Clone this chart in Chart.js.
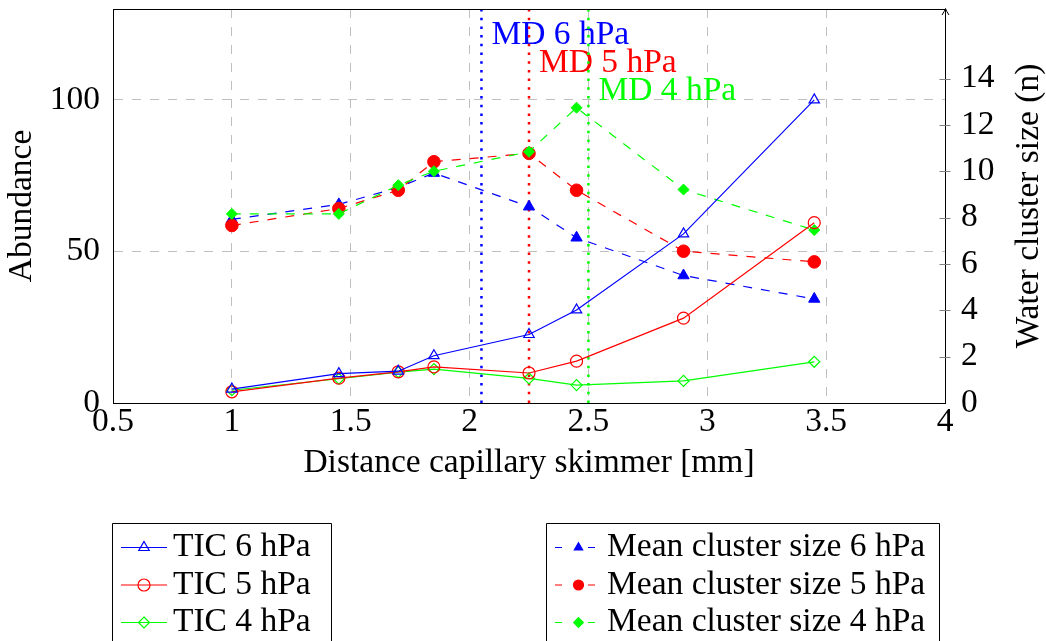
<!DOCTYPE html>
<html>
<head>
<meta charset="utf-8">
<script src="https://cdn.jsdelivr.net/npm/chart.js@4/dist/chart.umd.min.js"></script>
<style>
  html, body { margin: 0; padding: 0; background: #ffffff; overflow: hidden; }
  canvas { display: block; }
</style>
</head>
<body>
<canvas id="chart" width="1046" height="641"></canvas>
<script>
// Capillary–skimmer distances (mm) at which every series was measured
const distances = [1, 1.45, 1.7, 1.85, 2.25, 2.45, 2.9, 3.45];

// Total ion current (abundance, left axis)
const tic6 = [4.6, 9.7, 10.5, 15.6, 22.6, 30.7, 55.8, 100];
const tic5 = [3.7, 8.2, 10.3, 11.9, 9.9, 13.8, 28.0, 59.5];
const tic4 = [4.2, 8.0, 10.2, 11.2, 8.1, 5.9, 7.3, 13.6];

// Mean water cluster size n (right axis)
const cluster6 = [7.92, 8.57, 9.30, 9.92, 8.47, 7.13, 5.50, 4.49];
const cluster5 = [7.66, 8.39, 9.18, 10.41, 10.77, 9.18, 6.55, 6.09];
const cluster4 = [8.16, 8.16, 9.40, 10.00, 10.84, 12.74, 9.21, 7.46];

// Marked distances (MD) per pressure
const mdDistances = [2.05, 2.25, 2.5];
const mdLabels = ['MD 6 hPa', 'MD 5 hPa', 'MD 4 hPa'];
const mdLabelLevels = [118.4, 109.3, 100];

// Axis ticks
const xTicks = [0.5, 1, 1.5, 2, 2.5, 3, 3.5, 4];
const xTickLabels = ['0.5', '1', '1.5', '2', '2.5', '3', '3.5', '4'];
const abundanceTicks = [0, 50, 100];
const clusterTicks = [0, 2, 4, 6, 8, 10, 12, 14];

const FONT = "'Liberation Serif', 'Times New Roman', serif";
const FONT_SIZE = 33.5;
const BLUE = '#0000ff', RED = '#ff0000', GREEN = '#00ff00';
const GRID = '#bfbfbf';

const pts = vals => distances.map((d, i) => ({ x: d, y: vals[i] }));

function ticSeries(label, vals, color, style, radius) {
  return {
    label, data: pts(vals), yAxisID: 'y',
    borderColor: color, borderWidth: 1.2,
    pointStyle: style, pointRadius: radius, pointBorderWidth: 1.2,
    pointBorderColor: color, pointBackgroundColor: 'rgba(0,0,0,0)',
    fill: false, tension: 0, order: 1, legendGroup: 'tic'
  };
}
function clusterSeries(label, vals, color, style, radius, order) {
  return {
    label, data: pts(vals), yAxisID: 'y2',
    borderColor: color, borderWidth: 1.2, borderDash: [9, 9],
    pointStyle: style, pointRadius: radius, pointBorderWidth: 1,
    pointBorderColor: color, pointBackgroundColor: color,
    fill: false, tension: 0, order, legendGroup: 'cluster'
  };
}
function mdSeries(i, color) {
  return {
    label: mdLabels[i],
    data: [{ x: mdDistances[i], y: 0 }, { x: mdDistances[i], y: 130 }],
    yAxisID: 'y', borderColor: color, borderWidth: 2.5,
    borderDash: [2.5, 6.2], pointRadius: 0, fill: false, order: 20,
    mdIndex: i
  };
}

const datasets = [
  mdSeries(0, BLUE), mdSeries(1, RED), mdSeries(2, GREEN),
  clusterSeries('Mean cluster size 6 hPa', cluster6, BLUE, 'triangle', 6.5, 6),
  clusterSeries('Mean cluster size 5 hPa', cluster5, RED, 'circle', 6.3, 5),
  clusterSeries('Mean cluster size 4 hPa', cluster4, GREEN, 'rectRot', 5.5, 4),
  ticSeries('TIC 6 hPa', tic6, BLUE, 'triangle', 6),
  ticSeries('TIC 5 hPa', tic5, RED, 'circle', 6),
  ticSeries('TIC 4 hPa', tic4, GREEN, 'rectRot', 5.5)
];

function marker(ctx, style, x, y, r) {
  ctx.beginPath();
  if (style === 'circle') {
    ctx.arc(x, y, r, 0, Math.PI * 2);
  } else if (style === 'triangle') {
    for (let k = 0; k < 3; k++) {
      const a = k * 2 * Math.PI / 3;
      const px = x + Math.sin(a) * r, py = y - Math.cos(a) * r;
      k ? ctx.lineTo(px, py) : ctx.moveTo(px, py);
    }
  } else {
    ctx.moveTo(x, y - r); ctx.lineTo(x + r, y); ctx.lineTo(x, y + r); ctx.lineTo(x - r, y);
  }
  ctx.closePath();
}

// vertical scales: no extra room for labels above/below the plot area
const noPadV = s => { s.paddingTop = 0; s.paddingBottom = 0; };

const decorations = {
  id: 'decorations',
  beforeDatasetsDraw(chart) {
    const { ctx, scales: { x, y } } = chart;
    ctx.save();
    ctx.font = `${FONT_SIZE}px ${FONT}`;
    ctx.textBaseline = 'alphabetic';
    ctx.textAlign = 'left';
    chart.data.datasets.forEach(ds => {
      if (ds.mdIndex === undefined) return;
      ctx.fillStyle = ds.borderColor;
      ctx.fillText(mdLabels[ds.mdIndex],
        x.getPixelForValue(mdDistances[ds.mdIndex]) + 10,
        y.getPixelForValue(mdLabelLevels[ds.mdIndex]));
    });
    ctx.restore();
  },
  afterDraw(chart) {
    const { ctx, chartArea: a, scales: { y2 } } = chart;
    ctx.save();
    // top frame line
    ctx.strokeStyle = '#000'; ctx.lineWidth = 1;
    ctx.beginPath();
    ctx.moveTo(a.left, Math.round(a.top) + 0.5);
    ctx.lineTo(a.right, Math.round(a.top) + 0.5);
    ctx.stroke();
    // arrow head on right axis
    const ax = Math.round(a.right) + 0.5;
    ctx.beginPath();
    ctx.moveTo(ax - 3.5, a.top + 6);
    ctx.quadraticCurveTo(ax - 0.8, a.top + 2, ax, a.top - 0.5);
    ctx.quadraticCurveTo(ax + 0.8, a.top + 2, ax + 3.5, a.top + 6);
    ctx.stroke();
    // right axis tick marks across the axis
    ctx.strokeStyle = '#808080';
    clusterTicks.forEach(v => {
      if (v === 0) return;
      const py = Math.round(y2.getPixelForValue(v)) + 0.5;
      ctx.beginPath();
      ctx.moveTo(a.right - 5.5, py); ctx.lineTo(a.right + 5.5, py);
      ctx.stroke();
    });
    // right axis title, reading bottom to top
    ctx.fillStyle = '#000';
    ctx.font = `${FONT_SIZE}px ${FONT}`;
    ctx.translate(1038, (a.top + a.bottom) / 2);
    ctx.rotate(-Math.PI / 2);
    ctx.textAlign = 'center';
    ctx.textBaseline = 'alphabetic';
    ctx.fillText('Water cluster size (n)', 0, 0);
    ctx.restore();

    // legends
    const boxes = [
      { group: 'tic', left: 112.5, right: 331.5, l0: 121, l1: 167, mx: 144, tx: 173, dashed: false },
      { group: 'cluster', left: 546.5, right: 939.5, l0: 555, l1: 595, mx: 578.5, tx: 607, dashed: true }
    ];
    const rowY = [547, 584.5, 622];
    boxes.forEach(b => {
      ctx.save();
      ctx.strokeStyle = '#000'; ctx.lineWidth = 1;
      ctx.beginPath();
      ctx.moveTo(b.left, 660); ctx.lineTo(b.left, 523.5);
      ctx.lineTo(b.right, 523.5); ctx.lineTo(b.right, 660);
      ctx.stroke();
      const items = chart.data.datasets.filter(d => d.legendGroup === b.group);
      items.forEach((d, i) => {
        const yy = rowY[i] + 0.5;
        ctx.strokeStyle = d.borderColor; ctx.lineWidth = 1.2;
        ctx.beginPath();
        if (b.dashed) {
          ctx.moveTo(b.l0, yy); ctx.lineTo(b.l0 + 7, yy);
          ctx.moveTo(b.l1 - 7, yy); ctx.lineTo(b.l1, yy);
        } else {
          ctx.moveTo(b.l0, yy); ctx.lineTo(b.l1, yy);
        }
        ctx.stroke();
        const r = b.dashed ? (d.pointStyle === 'circle' ? 5 : 4.8) : d.pointRadius;
        marker(ctx, d.pointStyle, b.mx, yy, r);
        ctx.fillStyle = d.pointBackgroundColor;
        ctx.fill();
        ctx.lineWidth = 1.2;
        ctx.stroke();
        ctx.fillStyle = '#000';
        ctx.font = `${FONT_SIZE}px ${FONT}`;
        ctx.textAlign = 'left';
        ctx.textBaseline = 'alphabetic';
        ctx.fillText(d.label, b.tx, rowY[i] + 9);
      });
      ctx.restore();
    });
  }
};

Chart.defaults.font.family = FONT;
Chart.defaults.font.size = FONT_SIZE;
Chart.defaults.color = '#000';

new Chart(document.getElementById('chart'), {
  type: 'line',
  data: { datasets },
  options: {
    responsive: false,
    animation: false,
    events: [],
    devicePixelRatio: 1,
    layout: { padding: { top: 9, bottom: 158, left: 0, right: 0 } },
    plugins: { legend: { display: false }, tooltip: { enabled: false } },
    scales: {
      x: {
        type: 'linear', position: 'bottom', min: 0.5, max: 4,
        afterBuildTicks: s => { s.ticks = xTicks.map(v => ({ value: v })); },
        afterFit: s => { s.height = 80; s.paddingLeft = 0; s.paddingRight = 0; },
        ticks: {
          autoSkip: false, maxRotation: 0, padding: 0,
          font: { size: FONT_SIZE, lineHeight: 1.15 },
          callback: (v, i) => xTickLabels[i]
        },
        grid: { color: GRID, lineWidth: 1, drawTicks: false },
        border: { display: true, color: '#000', width: 1, dash: [9, 9] },
        title: {
          display: true, text: 'Distance capillary skimmer [mm]',
          font: { size: FONT_SIZE, lineHeight: 1.2 }, padding: { top: 0, bottom: 0 }
        }
      },
      y: {
        type: 'linear', position: 'left', min: 0, max: 130,
        afterBuildTicks: s => { s.ticks = abundanceTicks.map(v => ({ value: v })); },
        afterFit: s => { s.width = 113; noPadV(s); },
        ticks: { padding: 13, font: { size: FONT_SIZE } },
        grid: { color: GRID, lineWidth: 1, drawTicks: false },
        border: { display: true, color: '#000', width: 1, dash: [9, 9] },
        title: {
          display: true, text: 'Abundance',
          font: { size: FONT_SIZE, lineHeight: 1.2 }, padding: { top: 2, bottom: 0 }
        }
      },
      y2: {
        type: 'linear', position: 'right', min: 0, max: 17,
        afterBuildTicks: s => { s.ticks = clusterTicks.map(v => ({ value: v })); },
        afterFit: s => { s.width = 101; noPadV(s); },
        ticks: { padding: 16, font: { size: FONT_SIZE } },
        grid: { drawOnChartArea: false, drawTicks: false },
        border: { display: true, color: '#000', width: 1 }
      }
    }
  },
  plugins: [decorations]
});
</script>
</body>
</html>
